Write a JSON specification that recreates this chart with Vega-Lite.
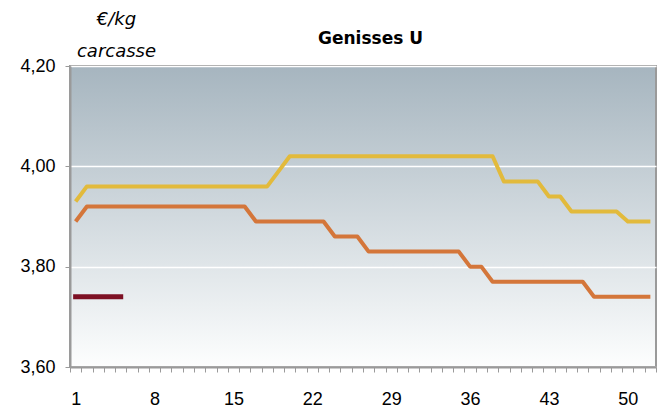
{
  "$schema": "https://vega.github.io/schema/vega-lite/v6.json",
  "autosize": {"type": "none"},
  "padding": {"left": 70, "top": 66, "right": 11, "bottom": 43},
  "width": 586,
  "height": 301,
  "background": "white",
  "config": {
    "view": {
      "fill": {"gradient": "linear", "x1": 0, "y1": 0, "x2": 0, "y2": 1,
        "stops": [{"offset": 0, "color": "#a6b5bf"}, {"offset": 1, "color": "#fdfefe"}]},
      "stroke": "#9a9a9a",
      "strokeWidth": 2
    },
    "axis": {
      "labelFont": "Liberation Sans",
      "labelFontSize": 18,
      "labelColor": "#000000",
      "domainColor": "#9a9a9a",
      "domainWidth": 2,
      "tickColor": "#9a9a9a",
      "tickWidth": 1,
      "tickSize": 5
    }
  },
  "data": {
    "values": [
      {"series": "N-2", "week": 1, "value": 3.93},
      {"series": "N-2", "week": 2, "value": 3.96},
      {"series": "N-2", "week": 3, "value": 3.96},
      {"series": "N-2", "week": 4, "value": 3.96},
      {"series": "N-2", "week": 5, "value": 3.96},
      {"series": "N-2", "week": 6, "value": 3.96},
      {"series": "N-2", "week": 7, "value": 3.96},
      {"series": "N-2", "week": 8, "value": 3.96},
      {"series": "N-2", "week": 9, "value": 3.96},
      {"series": "N-2", "week": 10, "value": 3.96},
      {"series": "N-2", "week": 11, "value": 3.96},
      {"series": "N-2", "week": 12, "value": 3.96},
      {"series": "N-2", "week": 13, "value": 3.96},
      {"series": "N-2", "week": 14, "value": 3.96},
      {"series": "N-2", "week": 15, "value": 3.96},
      {"series": "N-2", "week": 16, "value": 3.96},
      {"series": "N-2", "week": 17, "value": 3.96},
      {"series": "N-2", "week": 18, "value": 3.96},
      {"series": "N-2", "week": 19, "value": 3.99},
      {"series": "N-2", "week": 20, "value": 4.02},
      {"series": "N-2", "week": 21, "value": 4.02},
      {"series": "N-2", "week": 22, "value": 4.02},
      {"series": "N-2", "week": 23, "value": 4.02},
      {"series": "N-2", "week": 24, "value": 4.02},
      {"series": "N-2", "week": 25, "value": 4.02},
      {"series": "N-2", "week": 26, "value": 4.02},
      {"series": "N-2", "week": 27, "value": 4.02},
      {"series": "N-2", "week": 28, "value": 4.02},
      {"series": "N-2", "week": 29, "value": 4.02},
      {"series": "N-2", "week": 30, "value": 4.02},
      {"series": "N-2", "week": 31, "value": 4.02},
      {"series": "N-2", "week": 32, "value": 4.02},
      {"series": "N-2", "week": 33, "value": 4.02},
      {"series": "N-2", "week": 34, "value": 4.02},
      {"series": "N-2", "week": 35, "value": 4.02},
      {"series": "N-2", "week": 36, "value": 4.02},
      {"series": "N-2", "week": 37, "value": 4.02},
      {"series": "N-2", "week": 38, "value": 4.02},
      {"series": "N-2", "week": 39, "value": 3.97},
      {"series": "N-2", "week": 40, "value": 3.97},
      {"series": "N-2", "week": 41, "value": 3.97},
      {"series": "N-2", "week": 42, "value": 3.97},
      {"series": "N-2", "week": 43, "value": 3.94},
      {"series": "N-2", "week": 44, "value": 3.94},
      {"series": "N-2", "week": 45, "value": 3.91},
      {"series": "N-2", "week": 46, "value": 3.91},
      {"series": "N-2", "week": 47, "value": 3.91},
      {"series": "N-2", "week": 48, "value": 3.91},
      {"series": "N-2", "week": 49, "value": 3.91},
      {"series": "N-2", "week": 50, "value": 3.89},
      {"series": "N-2", "week": 51, "value": 3.89},
      {"series": "N-2", "week": 52, "value": 3.89},
      {"series": "N-1", "week": 1, "value": 3.89},
      {"series": "N-1", "week": 2, "value": 3.92},
      {"series": "N-1", "week": 3, "value": 3.92},
      {"series": "N-1", "week": 4, "value": 3.92},
      {"series": "N-1", "week": 5, "value": 3.92},
      {"series": "N-1", "week": 6, "value": 3.92},
      {"series": "N-1", "week": 7, "value": 3.92},
      {"series": "N-1", "week": 8, "value": 3.92},
      {"series": "N-1", "week": 9, "value": 3.92},
      {"series": "N-1", "week": 10, "value": 3.92},
      {"series": "N-1", "week": 11, "value": 3.92},
      {"series": "N-1", "week": 12, "value": 3.92},
      {"series": "N-1", "week": 13, "value": 3.92},
      {"series": "N-1", "week": 14, "value": 3.92},
      {"series": "N-1", "week": 15, "value": 3.92},
      {"series": "N-1", "week": 16, "value": 3.92},
      {"series": "N-1", "week": 17, "value": 3.89},
      {"series": "N-1", "week": 18, "value": 3.89},
      {"series": "N-1", "week": 19, "value": 3.89},
      {"series": "N-1", "week": 20, "value": 3.89},
      {"series": "N-1", "week": 21, "value": 3.89},
      {"series": "N-1", "week": 22, "value": 3.89},
      {"series": "N-1", "week": 23, "value": 3.89},
      {"series": "N-1", "week": 24, "value": 3.86},
      {"series": "N-1", "week": 25, "value": 3.86},
      {"series": "N-1", "week": 26, "value": 3.86},
      {"series": "N-1", "week": 27, "value": 3.83},
      {"series": "N-1", "week": 28, "value": 3.83},
      {"series": "N-1", "week": 29, "value": 3.83},
      {"series": "N-1", "week": 30, "value": 3.83},
      {"series": "N-1", "week": 31, "value": 3.83},
      {"series": "N-1", "week": 32, "value": 3.83},
      {"series": "N-1", "week": 33, "value": 3.83},
      {"series": "N-1", "week": 34, "value": 3.83},
      {"series": "N-1", "week": 35, "value": 3.83},
      {"series": "N-1", "week": 36, "value": 3.80},
      {"series": "N-1", "week": 37, "value": 3.80},
      {"series": "N-1", "week": 38, "value": 3.77},
      {"series": "N-1", "week": 39, "value": 3.77},
      {"series": "N-1", "week": 40, "value": 3.77},
      {"series": "N-1", "week": 41, "value": 3.77},
      {"series": "N-1", "week": 42, "value": 3.77},
      {"series": "N-1", "week": 43, "value": 3.77},
      {"series": "N-1", "week": 44, "value": 3.77},
      {"series": "N-1", "week": 45, "value": 3.77},
      {"series": "N-1", "week": 46, "value": 3.77},
      {"series": "N-1", "week": 47, "value": 3.74},
      {"series": "N-1", "week": 48, "value": 3.74},
      {"series": "N-1", "week": 49, "value": 3.74},
      {"series": "N-1", "week": 50, "value": 3.74},
      {"series": "N-1", "week": 51, "value": 3.74},
      {"series": "N-1", "week": 52, "value": 3.74},
      {"series": "N", "week": 1, "value": 3.74},
      {"series": "N", "week": 2, "value": 3.74},
      {"series": "N", "week": 3, "value": 3.74},
      {"series": "N", "week": 4, "value": 3.74},
      {"series": "N", "week": 5, "value": 3.74}
    ]
  },
  "layer": [
    {
      "transform": [{"filter": "datum.series !== 'N'"}],
      "mark": {"type": "line", "strokeWidth": 4, "strokeJoin": "round"},
      "encoding": {
        "x": {
          "field": "week", "type": "quantitative",
          "scale": {"domain": [0.5, 52.5], "nice": false, "zero": false},
          "axis": {
            "orient": "bottom",
            "title": null,
            "grid": false,
            "values": [0.5,1.5,2.5,3.5,4.5,5.5,6.5,7.5,8.5,9.5,10.5,11.5,12.5,13.5,14.5,15.5,16.5,17.5,18.5,19.5,20.5,21.5,22.5,23.5,24.5,25.5,26.5,27.5,28.5,29.5,30.5,31.5,32.5,33.5,34.5,35.5,36.5,37.5,38.5,39.5,40.5,41.5,42.5,43.5,44.5,45.5,46.5,47.5,48.5,49.5,50.5,51.5,52.5],
            "labelExpr": "((datum.value - 0.5) % 7 == 0) ? format(datum.value + 0.5, 'd') : ''",
            "labelOffset": 5.635,
            "labelOverlap": false,
            "labelFlush": false,
            "labelBound": false,
            "labelPadding": 18,
            "tickSize": 5
          }
        },
        "y": {
          "field": "value", "type": "quantitative",
          "scale": {"domain": [3.6, 4.2], "nice": false, "zero": false},
          "axis": {
            "values": [3.6, 3.8, 4.0, 4.2],
            "labelExpr": "replace(format(datum.value, '.2f'), '.', ',')",
            "labelPadding": 10,
            "tickSize": 5,
            "grid": true,
            "gridColor": "#ffffff",
            "gridWidth": 1.5,
            "title": ["€/kg", "carcasse"],
            "titleAngle": 0,
            "titleX": 46,
            "titleY": -42,
            "titleAlign": "center",
            "titleBaseline": "alphabetic",
            "titleLineHeight": 32,
            "titleFont": "DejaVu Sans",
            "titleFontStyle": "italic",
            "titleFontWeight": "normal",
            "titleFontSize": 18,
            "titleColor": "#000000"
          }
        },
        "color": {
          "field": "series", "type": "nominal",
          "scale": {"domain": ["N-2", "N-1", "N"], "range": ["#e2ba3c", "#d4763a", "#7d1124"]},
          "legend": null
        }
      }
    },
    {
      "transform": [{"filter": "datum.series === 'N'"}],
      "mark": {"type": "line", "strokeWidth": 5, "strokeCap": "square"},
      "encoding": {
        "x": {
          "field": "week", "type": "quantitative",
          "axis": {
            "orient": "top",
            "domain": false,
            "ticks": false,
            "labels": false,
            "grid": false,
            "title": "Genisses U",
            "titleX": 300,
            "titleY": -23,
            "titleAlign": "center",
            "titleBaseline": "alphabetic",
            "titleFont": "DejaVu Sans",
            "titleFontSize": 17,
            "titleFontWeight": "bold",
            "titleColor": "#000000"
          }
        },
        "y": {"field": "value", "type": "quantitative"},
        "color": {
          "field": "series", "type": "nominal",
          "scale": {"domain": ["N-2", "N-1", "N"], "range": ["#e2ba3c", "#d4763a", "#7d1124"]},
          "legend": null
        }
      }
    }
  ],
  "resolve": {"axis": {"x": "independent"}}
}
